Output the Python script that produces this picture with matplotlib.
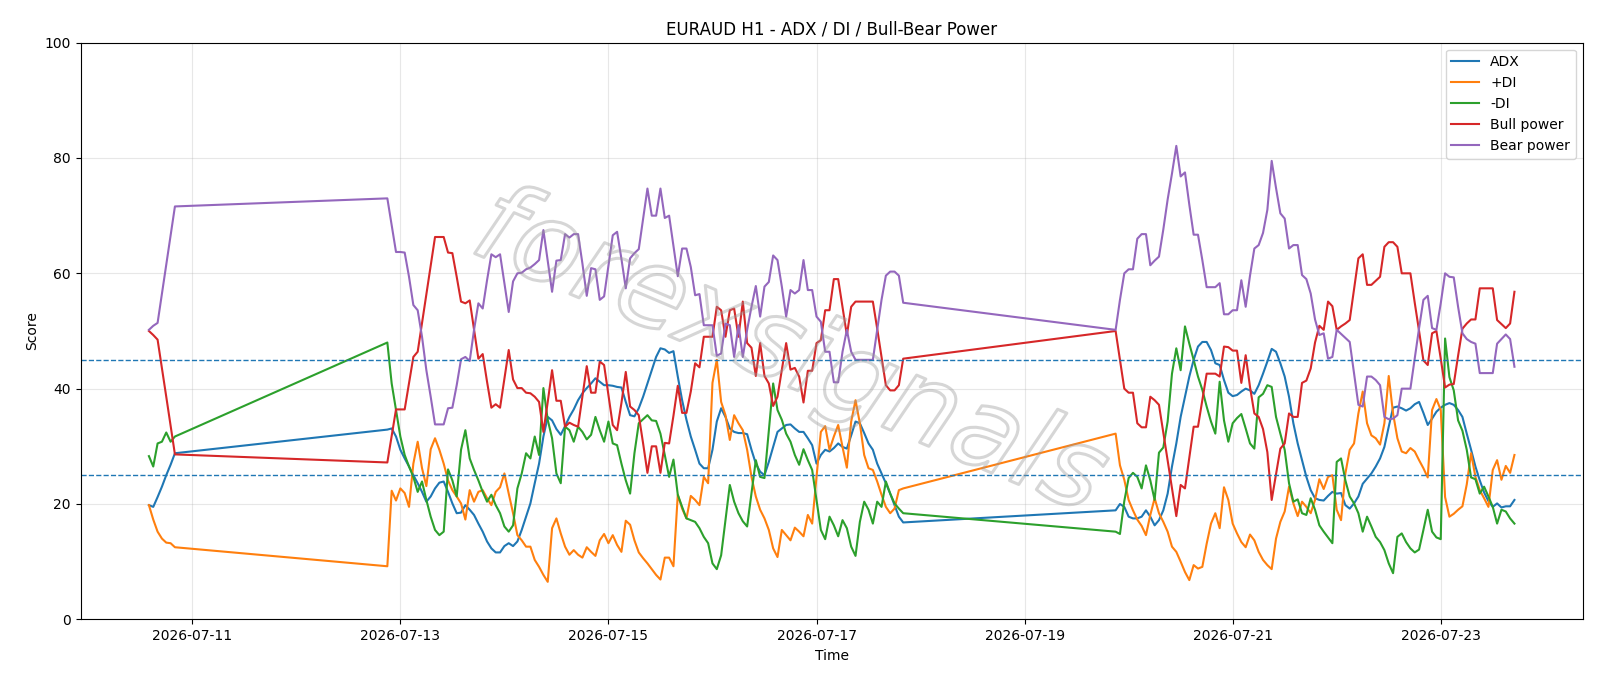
import numpy as np, pandas as pd, matplotlib as mpl
mpl.use("Agg"); import matplotlib.pyplot as plt
import matplotlib.dates as mdates
import matplotlib.patheffects as pe

# hourly bars, three trading stretches (weekend gaps in between)
t1 = pd.date_range("2026-07-10 14:00", "2026-07-10 20:00", freq="h")
t2 = pd.date_range("2026-07-12 21:00", "2026-07-17 20:00", freq="h")
t3 = pd.date_range("2026-07-19 21:00", "2026-07-23 17:00", freq="h")

adx1 = [19.8, 19.5, 21.2, 23.0, 25.0, 26.8, 28.8]
pdi1 = [19.8, 17.3, 15.2, 14.0, 13.3, 13.2, 12.5]
mdi1 = [28.3, 26.5, 30.5, 30.8, 32.4, 30.8, 31.7]
bull1 = [50.0, 49.3, 48.5, 43.6, 38.6, 33.6, 28.6]
bear1 = [50.2, 50.9, 51.4, 56.5, 61.5, 66.5, 71.6]

adx2 = [32.9, 33.1, 31.7, 29.4, 27.9, 26.5, 25.0, 23.6, 22.1, 20.4, 21.3, 22.7, 23.7, 23.9, 22.1, 20.1,
        18.4, 18.5, 19.8, 19.0, 18.1, 16.6, 15.2, 13.5, 12.3, 11.6, 11.6, 12.7, 13.2, 12.7, 13.5, 15.5,
        17.8, 20.1, 23.6, 27.0, 31.7, 35.1, 34.5, 33.0, 32.0, 33.5, 35.1, 36.4, 38.0, 39.2, 40.1, 40.9,
        41.8, 41.2, 40.6, 40.6, 40.5, 40.3, 40.2, 37.7, 35.4, 35.2, 36.6, 38.6, 40.9, 43.2, 45.5, 47.0,
        46.8, 46.2, 46.5, 42.1, 38.0, 34.6, 31.7, 29.4, 27.0, 26.2, 26.2, 29.4, 34.3, 36.6, 35.1, 33.1,
        32.5, 32.3, 32.3, 32.1, 29.4, 27.0, 25.6, 25.0, 27.3, 29.9, 32.5, 33.1, 33.7, 33.8, 33.1, 32.5,
        32.5, 31.4, 30.2, 27.0, 28.5, 29.4, 29.1, 29.7, 30.5, 29.9, 29.6, 31.9, 34.3, 34.0, 32.3, 30.5,
        29.4, 27.0, 25.3, 23.6, 21.8, 19.8, 17.8, 16.8]
pdi2 = [9.2, 22.3, 20.6, 22.7, 21.9, 19.5, 27.0, 30.8, 26.2, 23.1, 29.5, 31.4, 29.4, 27.0, 24.1, 22.4,
        21.3, 20.1, 17.3, 22.4, 20.4, 22.1, 22.4, 21.0, 19.8, 22.1, 22.9, 25.3, 21.8, 18.4, 14.6, 13.7,
        12.6, 12.6, 10.3, 9.1, 7.7, 6.5, 15.8, 17.5, 14.9, 12.6, 11.2, 12.0, 11.2, 10.7, 12.5, 11.7,
        11.0, 13.7, 14.8, 13.2, 14.6, 12.9, 11.7, 17.1, 16.4, 13.7, 11.6, 10.6, 9.7, 8.7, 7.7, 6.9,
        10.7, 10.7, 9.2, 21.6, 19.2, 17.5, 21.4, 20.7, 19.8, 24.7, 23.6, 41.0, 45.0, 37.7, 35.4, 31.1,
        35.4, 34.0, 32.8, 29.4, 24.7, 21.3, 19.0, 17.5, 15.5, 12.3, 10.8, 15.5, 14.6, 13.7, 15.9, 15.2,
        14.4, 18.1, 16.6, 24.7, 32.5, 33.5, 29.4, 31.7, 33.7, 29.9, 26.3, 34.3, 38.0, 34.0, 28.5, 26.2,
        25.9, 23.9, 21.6, 19.5, 18.4, 19.2, 22.4, 22.7]
mdi2 = [48.0, 40.9, 36.3, 31.7, 28.5, 26.5, 24.7, 22.1, 23.9, 20.7, 17.8, 15.5, 14.6, 15.2, 26.0, 24.1,
        21.3, 29.4, 32.8, 27.9, 25.9, 24.1, 22.1, 20.4, 21.6, 19.8, 18.4, 16.1, 15.2, 16.3, 22.7, 25.3,
        28.8, 27.9, 31.7, 28.5, 40.1, 34.6, 31.4, 25.3, 23.6, 33.4, 32.8, 30.8, 33.4, 32.5, 31.2, 32.0,
        35.1, 32.8, 30.8, 34.3, 30.5, 30.2, 27.0, 24.1, 21.8, 28.8, 34.0, 34.7, 35.4, 34.5, 34.4, 32.2,
        28.5, 24.7, 27.7, 21.6, 19.5, 17.5, 17.2, 16.9, 15.8, 14.3, 13.2, 9.7, 8.7, 11.1, 17.2, 23.3,
        20.4, 18.4, 17.0, 16.1, 21.8, 27.6, 24.7, 24.5, 32.8, 40.9, 36.3, 34.6, 32.2, 30.8, 28.5, 26.8,
        29.5, 27.6, 25.9, 20.7, 15.5, 13.9, 17.8, 16.3, 14.4, 17.2, 15.8, 12.6, 11.0, 16.9, 20.4, 19.0,
        16.6, 20.4, 19.5, 23.9, 21.8, 20.1, 19.2, 18.4]
bull2 = [27.2, 31.8, 36.4, 36.4, 36.4, 41.0, 45.5, 46.4, 51.4, 56.4, 61.4, 66.3, 66.3, 66.3, 63.6, 63.5,
         59.4, 55.1, 54.8, 55.3, 50.2, 45.2, 46.0, 41.2, 36.7, 37.3, 36.7, 41.7, 46.7, 41.6, 40.1, 40.1,
         39.3, 39.2, 38.6, 37.7, 32.5, 37.7, 43.2, 37.9, 37.9, 33.4, 34.1, 33.7, 33.4, 38.6, 43.9, 39.3,
         39.3, 44.7, 44.1, 38.9, 33.7, 32.8, 37.5, 42.9, 36.9, 36.3, 35.4, 30.5, 25.4, 30.0, 30.0, 25.4,
         30.6, 30.5, 35.3, 40.5, 35.8, 35.8, 39.5, 44.4, 43.7, 49.0, 49.0, 49.0, 54.2, 53.6, 49.0, 53.6,
         53.9, 49.0, 55.1, 47.9, 47.1, 42.2, 47.9, 42.2, 40.9, 37.0, 38.6, 43.2, 47.9, 43.3, 43.6, 42.1,
         37.6, 43.1, 43.1, 47.9, 48.4, 53.6, 53.6, 59.0, 59.0, 54.2, 49.3, 54.2, 55.1, 55.1, 55.1, 55.1,
         55.1, 50.4, 45.5, 40.6, 39.7, 39.7, 40.6, 45.2]
bear2 = [73.0, 68.4, 63.7, 63.7, 63.6, 59.4, 54.5, 53.6, 49.0, 43.2, 38.6, 33.8, 33.8, 33.8, 36.6, 36.7,
         40.6, 45.1, 45.5, 44.8, 50.2, 54.8, 53.9, 58.8, 63.3, 62.8, 63.3, 58.3, 53.3, 58.6, 60.0, 60.1,
         60.7, 61.0, 61.6, 62.3, 67.5, 62.2, 56.8, 62.2, 62.3, 66.8, 66.2, 66.8, 66.8, 61.7, 56.1, 60.9,
         60.7, 55.4, 56.0, 61.3, 66.6, 67.2, 62.5, 57.4, 62.6, 63.5, 64.2, 69.4, 74.7, 70.0, 70.0, 74.7,
         69.6, 70.0, 64.8, 59.5, 64.3, 64.3, 61.1, 56.2, 56.4, 51.0, 51.0, 51.0, 45.7, 46.1, 51.3, 51.0,
         45.5, 51.0, 45.5, 50.2, 54.2, 57.8, 52.5, 57.7, 58.5, 63.1, 62.3, 57.7, 52.5, 57.1, 56.5, 57.1,
         62.3, 57.1, 57.1, 52.5, 51.6, 46.4, 46.4, 41.1, 41.1, 46.4, 50.2, 46.4, 45.0, 45.0, 45.0, 45.0,
         45.0, 50.2, 55.4, 59.6, 60.3, 60.3, 59.6, 54.9]

adx3 = [18.9, 20.0, 19.5, 17.8, 17.5, 17.5, 17.8, 18.9, 17.8, 16.3, 17.2, 18.9, 21.8, 26.5, 30.5, 35.1,
        38.6, 42.1, 45.0, 47.3, 48.1, 48.1, 46.7, 44.4, 44.1, 41.5, 39.3, 38.7, 38.9, 39.5, 40.0, 39.7,
        39.1, 40.6, 42.6, 44.7, 46.9, 46.4, 44.4, 42.1, 38.6, 34.0, 30.5, 27.6, 24.7, 22.4, 21.0, 20.7,
        20.6, 21.4, 22.1, 21.8, 21.9, 19.8, 19.2, 20.1, 21.3, 23.5, 24.4, 25.3, 26.5, 27.9, 29.9, 33.4,
        36.7, 36.9, 36.6, 36.2, 36.6, 37.3, 37.7, 35.8, 33.7, 34.8, 36.0, 36.7, 37.2, 37.5, 37.2, 36.3,
        35.1, 32.2, 29.4, 26.5, 24.1, 22.0, 20.5, 19.5, 20.1, 19.4, 19.6, 19.6, 20.7]
pdi3 = [32.2, 26.7, 24.2, 20.7, 18.9, 17.3, 16.2, 14.6, 18.1, 21.0, 18.4, 16.9, 15.2, 12.6, 11.7, 10.0,
        8.2, 6.8, 9.4, 8.8, 9.1, 13.1, 16.6, 18.4, 15.8, 22.9, 20.7, 16.6, 14.9, 13.4, 12.5, 14.7,
        13.7, 11.7, 10.3, 9.4, 8.7, 14.0, 16.9, 18.7, 23.0, 20.1, 17.9, 20.4, 19.5, 18.4, 20.7, 24.3,
        22.6, 24.7, 25.0, 19.0, 17.2, 25.3, 29.4, 30.5, 35.7, 39.5, 34.0, 31.9, 31.4, 30.3, 34.0, 42.2,
        35.7, 31.4, 29.1, 28.8, 29.7, 29.1, 27.6, 26.2, 24.6, 36.3, 38.2, 36.3, 21.2, 17.8, 18.3, 19.0,
        19.6, 23.4, 28.8, 24.7, 22.4, 21.0, 19.5, 25.9, 27.6, 24.2, 26.6, 25.4, 28.5]
mdi3 = [15.2, 14.8, 20.5, 24.5, 25.4, 24.7, 22.7, 26.7, 24.1, 20.7, 28.9, 29.8, 34.3, 42.6, 47.0, 43.2,
        50.8, 47.8, 45.0, 42.1, 39.8, 36.9, 34.3, 32.2, 41.2, 34.5, 30.8, 34.0, 34.9, 35.6, 33.1, 30.5,
        29.6, 38.5, 39.1, 40.6, 40.3, 35.1, 32.2, 29.4, 23.6, 20.4, 20.8, 18.4, 18.1, 21.0, 19.0, 16.3,
        15.2, 14.2, 13.2, 27.3, 27.9, 24.1, 21.3, 20.1, 18.4, 15.2, 17.8, 16.1, 14.3, 13.4, 12.0, 9.7,
        8.0, 14.3, 14.9, 13.4, 12.3, 11.6, 12.1, 15.5, 19.0, 15.2, 14.2, 13.9, 48.7, 42.0, 39.7, 34.5,
        32.7, 29.4, 24.6, 24.3, 21.8, 23.0, 21.3, 19.5, 16.6, 19.0, 18.7, 17.5, 16.6]
bull3 = [50.0, 45.0, 40.0, 39.3, 39.3, 34.0, 33.3, 33.3, 38.6, 38.0, 37.2, 32.4, 27.5, 22.7, 17.9, 23.3,
         22.7, 28.1, 33.4, 33.4, 38.0, 42.6, 42.6, 42.6, 42.1, 47.3, 47.2, 46.6, 46.6, 41.0, 45.8, 40.3,
         35.7, 35.1, 33.0, 29.0, 20.7, 25.2, 29.6, 30.5, 35.7, 35.1, 35.1, 41.0, 41.4, 43.5, 48.0, 50.9,
         50.2, 55.1, 54.3, 50.2, 50.8, 51.3, 51.9, 57.2, 62.6, 63.3, 58.0, 58.0, 58.7, 59.4, 64.6, 65.4,
         65.4, 64.6, 60.0, 60.0, 60.0, 54.9, 50.0, 44.9, 44.1, 49.6, 50.0, 45.2, 40.2, 40.7, 40.8, 45.7,
         50.4, 51.3, 52.0, 52.0, 57.4, 57.4, 57.4, 57.4, 51.9, 51.2, 50.5, 51.3, 56.8]
bear3 = [50.2, 55.4, 60.0, 60.7, 60.7, 66.0, 66.8, 66.8, 61.4, 62.2, 62.9, 67.6, 72.8, 77.3, 82.1, 76.8,
         77.5, 71.9, 66.7, 66.7, 62.3, 57.6, 57.6, 57.6, 58.3, 52.9, 52.9, 53.6, 53.6, 58.8, 54.2, 59.6,
         64.3, 64.9, 67.0, 71.0, 79.5, 74.8, 70.4, 69.5, 64.3, 64.9, 64.9, 59.7, 59.0, 56.5, 52.0, 49.3,
         49.6, 45.2, 45.5, 50.2, 49.5, 48.8, 48.1, 42.7, 37.2, 36.9, 42.1, 42.1, 41.5, 40.6, 35.1, 34.7,
         34.8, 35.4, 40.0, 40.0, 40.0, 45.2, 50.5, 55.4, 56.1, 50.5, 50.2, 54.8, 60.0, 59.4, 59.3, 54.2,
         49.6, 48.6, 48.1, 47.8, 42.7, 42.7, 42.7, 42.7, 47.8, 48.6, 49.4, 48.6, 43.8]

t = t1.append(t2).append(t3)
series = [("ADX", adx1 + adx2 + adx3), ("+DI", pdi1 + pdi2 + pdi3), ("-DI", mdi1 + mdi2 + mdi3),
          ("Bull power", bull1 + bull2 + bull3), ("Bear power", bear1 + bear2 + bear3)]
levels = [45, 25]
ticks = pd.date_range("2026-07-11", "2026-07-23", freq="2D")

fig = plt.figure(figsize=(16, 6.86), dpi=100)
ax = fig.add_axes([0.0504, 0.0972, 0.9388, 0.8406])
for name, vals in series:
    ax.plot(t, vals, lw=1.5, label=name)
for lv in levels:
    ax.axhline(lv, ls="--", lw=1, color="C0")
ax.set_ylim(0, 100)
ax.set_xticks(ticks)
ax.xaxis.set_major_formatter(mdates.DateFormatter("%Y-%m-%d"))
ax.grid(True, alpha=0.3)
ax.set_title("EURAUD H1 - ADX / DI / Bull-Bear Power")
ax.set_xlabel("Time"); ax.set_ylabel("Score")
ax.legend(loc="upper right")
ax.text(0.472, 0.46, "forexsignals", transform=ax.transAxes, ha="center", va="center",
        fontsize=80, fontstyle="italic", rotation=-23, color=(1, 1, 1, 0),
        path_effects=[pe.withStroke(linewidth=2.2, foreground=(0.6, 0.6, 0.6, 0.4))])
fig.savefig("out.png")
